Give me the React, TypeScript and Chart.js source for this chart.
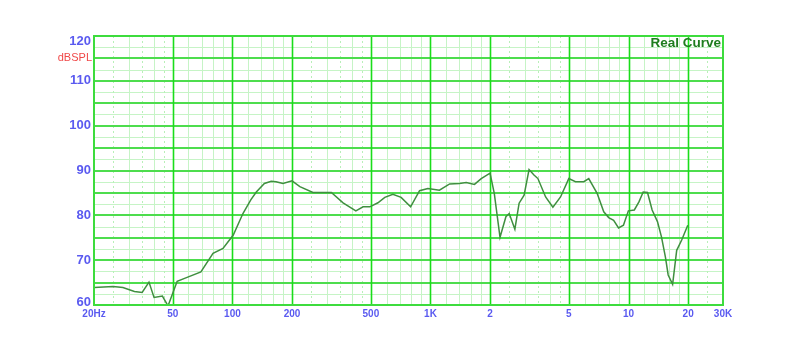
import React, { useEffect, useRef } from "react";
import { Chart, registerables } from "chart.js";

Chart.register(...registerables);

const FREQS = [
  20, 25, 28, 32, 35, 37.9, 40.2, 44.3, 47.3, 52.6, 58.6, 69.3, 79.8, 89.6, 101, 113, 124, 132, 145, 157,
  166, 180, 200, 219, 255, 316, 362, 420, 457, 494, 543, 588, 646, 711, 794, 881, 970, 1110, 1250, 1400,
  1515, 1668, 1804, 1999, 2100, 2245, 2404, 2498, 2668, 2803, 2970, 3146, 3332, 3488, 3814, 4151, 4537,
  4995, 5398, 5946, 6299, 6942, 7499, 7942, 8412, 8906, 9430, 9983, 10700, 11290, 11860, 12470, 13160,
  14000, 14670, 15360, 15860, 16700, 17510, 18560, 19920,
];
const SPL = [
  63.9, 64.1, 63.9, 63.0, 62.8, 65.1, 61.7, 62.0, 59.8, 65.3, 66.1, 67.4, 71.5, 72.6, 75.6, 80.4, 83.5, 85.2, 87.1, 87.6,
  87.5, 87.1, 87.7, 86.4, 85.1, 85.1, 82.8, 81.0, 81.9, 81.9, 82.8, 84.0, 84.7, 84.0, 81.9, 85.5, 86.0, 85.6, 87.0, 87.1,
  87.3, 86.9, 88.2, 89.4, 84.9, 75.1, 79.7, 80.4, 76.9, 82.7, 84.5, 90.2, 89.0, 88.2, 84.1, 81.8, 84.1,
  88.2, 87.5, 87.5, 88.2, 84.9, 80.8, 79.5, 78.9, 77.2, 77.8, 81.0, 81.2, 83.0, 85.2, 85.1, 81.2,
  78.6, 75.2, 70.7, 66.7, 64.6, 72.2, 74.5, 77.8,
];

const X_TICKS = [20, 50, 100, 200, 500, 1000, 2000, 5000, 10000, 20000, 30000];
const X_LABELS = ["20Hz", "50", "100", "200", "500", "1K", "2", "5", "10", "20", "30K"];
const Y_TICKS = [60, 70, 80, 90, 100, 110, 115, 120];
const Y_LABELS = ["60", "70", "80", "90", "100", "110", "dBSPL", "120"];
const UNIT_TICK = 115;
const TITLE = "Real Curve";

const FONT = "Arial, 'Liberation Sans', sans-serif";

const gridPlugin = {
  id: "customGrid",
  beforeDatasetsDraw(chart: any) {
    const { ctx, chartArea, scales } = chart;
    const { left, right, top, bottom } = chartArea;
    const xs = scales.x;
    const ys = scales.y;
    ctx.save();
    ctx.beginPath();
    ctx.rect(left, top, right - left, bottom - top);
    ctx.clip();

    const solidMinor: number[] = [];
    const dashMinor: number[] = [];
    for (const d of [10, 100, 1000, 10000]) {
      for (const m of [1.2, 1.4, 1.6, 1.8, 3, 4, 6, 7, 8, 9]) solidMinor.push(d * m);
      for (const m of [2.5, 3.5, 4.5]) dashMinor.push(d * m);
    }
    const inRange = (v: number) => v > 20 && v < 30000;

    ctx.lineWidth = 1;
    ctx.strokeStyle = "#c6f4c6";
    for (let v = 62.5; v < 120; v += 5) {
      const py = Math.round(ys.getPixelForValue(v)) + 0.5;
      ctx.beginPath();
      ctx.moveTo(left, py);
      ctx.lineTo(right, py);
      ctx.stroke();
    }
    for (const v of solidMinor.filter(inRange)) {
      const px = Math.round(xs.getPixelForValue(v)) + 0.5;
      ctx.beginPath();
      ctx.moveTo(px, top);
      ctx.lineTo(px, bottom);
      ctx.stroke();
    }
    ctx.setLineDash([2, 3]);
    ctx.strokeStyle = "#b8f0b8";
    for (const v of dashMinor.filter(inRange)) {
      const px = Math.round(xs.getPixelForValue(v)) + 0.5;
      ctx.beginPath();
      ctx.moveTo(px, top);
      ctx.lineTo(px, bottom);
      ctx.stroke();
    }
    ctx.setLineDash([]);

    ctx.strokeStyle = "#4ddd4d";
    ctx.lineWidth = 2;
    for (let v = 65; v < 120; v += 5) {
      const py = Math.round(ys.getPixelForValue(v));
      ctx.beginPath();
      ctx.moveTo(left, py);
      ctx.lineTo(right, py);
      ctx.stroke();
    }
    ctx.strokeStyle = "#1add1a";
    ctx.lineWidth = 1.6;
    for (const v of X_TICKS.filter(inRange)) {
      const px = Math.round(xs.getPixelForValue(v)) + 0.5;
      ctx.beginPath();
      ctx.moveTo(px, top);
      ctx.lineTo(px, bottom);
      ctx.stroke();
    }
    ctx.restore();
  },
  afterDatasetsDraw(chart: any) {
    const { ctx, chartArea, scales } = chart;
    const { left, right, top, bottom } = chartArea;
    const ys = scales.y;
    ctx.save();
    ctx.strokeStyle = "#3ddc3d";
    ctx.lineWidth = 2;
    ctx.strokeRect(left, top, right - left, bottom - top);

    // y-axis labels, kept inside the plot's vertical span
    ctx.textAlign = "right";
    ctx.textBaseline = "middle";
    Y_TICKS.forEach((v, i) => {
      let py = ys.getPixelForValue(v);
      py = Math.max(top + 5, Math.min(bottom - 3, py));
      if (v === UNIT_TICK) {
        ctx.fillStyle = "#f04848";
        ctx.font = `11px ${FONT}`;
        ctx.fillText(Y_LABELS[i], left - 2, py);
      } else {
        ctx.fillStyle = "#5a5af0";
        ctx.font = `bold 13px ${FONT}`;
        ctx.fillText(Y_LABELS[i], left - 3, py);
      }
    });

    ctx.fillStyle = "#1e7d1e";
    ctx.font = `bold 13.5px ${FONT}`;
    ctx.textAlign = "right";
    ctx.textBaseline = "middle";
    ctx.fillText(TITLE, right - 2, top + 7.5);
    ctx.restore();
  },
};

export default function App() {
  const ref = useRef<HTMLCanvasElement | null>(null);

  useEffect(() => {
    document.body.style.margin = "0";
    const canvas = ref.current;
    if (!canvas) return;
    const chart = new Chart(canvas, {
      type: "line",
      data: {
        datasets: [
          {
            data: FREQS.map((f, i) => ({ x: f, y: SPL[i] })),
            borderColor: "#3f8f3f",
            borderWidth: 1.5,
            pointRadius: 0,
            tension: 0,
            fill: false,
          },
        ],
      },
      options: {
        responsive: false,
        animation: false,
        layout: { padding: { left: 0, top: 36, right: 77, bottom: 0 } },
        plugins: { legend: { display: false }, tooltip: { enabled: false } },
        scales: {
          x: {
            type: "logarithmic",
            min: 20,
            max: 30000,
            grid: { display: false, drawTicks: false },
            border: { display: false },
            afterBuildTicks: (s: any) => {
              s.ticks = X_TICKS.map((v) => ({ value: v }));
            },
            afterFit: (s: any) => {
              s.height = 54;
            },
            ticks: {
              autoSkip: false,
              maxRotation: 0,
              minRotation: 0,
              padding: 3,
              color: "#5a5af0",
              font: { family: FONT, size: 10, weight: "bold" },
              callback: (_v: any, i: number) => X_LABELS[i],
            },
          },
          y: {
            type: "linear",
            min: 60,
            max: 120,
            grid: { display: false, drawTicks: false },
            border: { display: false },
            afterBuildTicks: (s: any) => {
              s.ticks = Y_TICKS.map((v) => ({ value: v }));
            },
            afterFit: (s: any) => {
              s.width = 94;
            },
            ticks: { display: false },
          },
        },
      } as any,
      plugins: [gridPlugin],
    });
    return () => chart.destroy();
  }, []);

  return <canvas ref={ref} width={800} height={359} style={{ display: "block" }} />;
}
